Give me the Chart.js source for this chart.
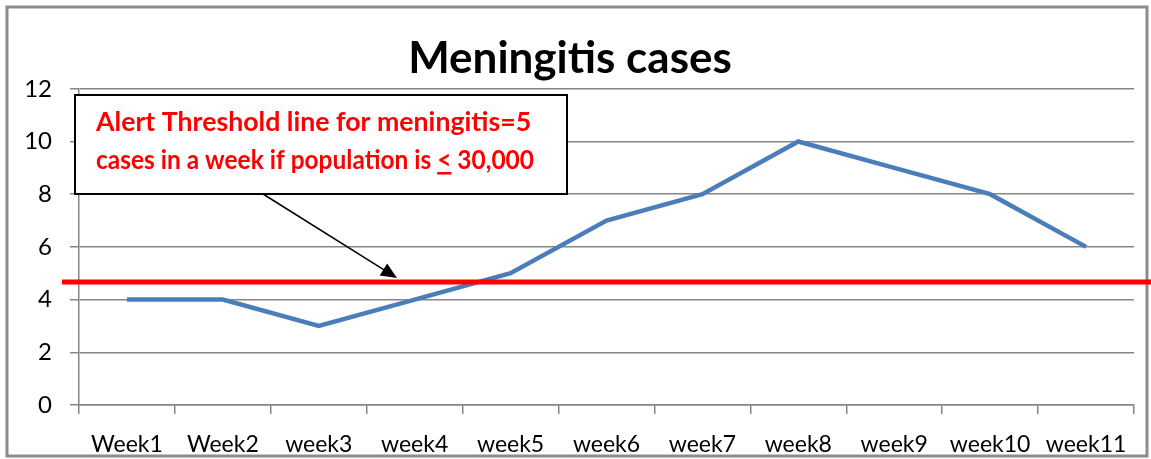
<!DOCTYPE html>
<html>
<head>
<meta charset="utf-8">
<script src="https://cdn.jsdelivr.net/npm/chart.js@4/dist/chart.umd.min.js"></script>
<style>
  html, body { margin: 0; padding: 0; background: #fff; }
  #wrap { width: 1151px; height: 459px; }
</style>
</head>
<body>
<div id="wrap"><canvas id="chart" width="1151" height="459"></canvas></div>
<script>
const weeks = ["Week1", "Week2", "week3", "week4", "week5", "week6", "week7", "week8", "week9", "week10", "week11"];
const cases = [4, 4, 3, 4, 5, 7, 8, 10, 9, 8, 6];
const threshold = 4.67;
const noteLines = ["Alert Threshold line for meningitis=5", "cases in a week if population is ", "<", " 30,000"];

const FONT = "Lato, 'Open Sans', sans-serif";

// frame, threshold line and the note box with arrow
const extras = {
  id: "extras",
  beforeDraw(chart) {
    const c = chart.ctx;
    c.save();
    c.fillStyle = "#fff";
    c.fillRect(0, 0, chart.width, chart.height);
    c.strokeStyle = "#8c8c8c";
    c.lineWidth = 3;
    c.strokeRect(7, 7, 1140, 449);
    c.restore();
  },
  afterDatasetsDraw(chart) {
    const c = chart.ctx;
    const y = chart.scales.y.getPixelForValue(threshold);
    const left = chart.chartArea.left;
    c.save();
    c.strokeStyle = "#ff0000";
    c.lineWidth = 5;
    c.beginPath();
    c.moveTo(left - 17, y);
    c.lineTo(chart.width, y);
    c.stroke();

    // note box
    c.fillStyle = "#fff";
    c.fillRect(75, 95, 492, 99);
    c.strokeStyle = "#000";
    c.lineWidth = 2;
    c.strokeRect(75, 95, 492, 99);

    c.fillStyle = "#ff0000";
    c.font = "bold 26.7px " + FONT;
    c.textBaseline = "alphabetic";
    c.fillText(noteLines[0], 96, 131);

    // second line squeezed to the same width as in the original
    const w1 = c.measureText(noteLines[1]).width;
    const w2 = c.measureText(noteLines[2]).width;
    const w3 = c.measureText(noteLines[3]).width;
    const sx = 438 / (w1 + w2 + w3);
    c.save();
    c.translate(96, 0);
    c.scale(sx, 1);
    c.fillText(noteLines[1], 0, 169);
    c.fillText(noteLines[2], w1, 169);
    c.fillRect(w1, 172, w2, 2.5);
    c.fillText(noteLines[3], w1 + w2, 169);
    c.restore();

    // arrow
    const x0 = 263, y0 = 194, x1 = 397, y1 = y - 4;
    const ang = Math.atan2(y1 - y0, x1 - x0);
    c.strokeStyle = "#000";
    c.lineWidth = 1.5;
    c.beginPath();
    c.moveTo(x0, y0);
    c.lineTo(x1 - 12 * Math.cos(ang), y1 - 12 * Math.sin(ang));
    c.stroke();
    c.fillStyle = "#000";
    c.beginPath();
    c.moveTo(x1, y1);
    c.lineTo(x1 - 16 * Math.cos(ang) + 7 * Math.sin(ang), y1 - 16 * Math.sin(ang) - 7 * Math.cos(ang));
    c.lineTo(x1 - 16 * Math.cos(ang) - 7 * Math.sin(ang), y1 - 16 * Math.sin(ang) + 7 * Math.cos(ang));
    c.closePath();
    c.fill();
    c.restore();
  }
};

new Chart(document.getElementById("chart"), {
  type: "line",
  data: {
    labels: weeks,
    datasets: [{
      data: cases,
      borderColor: "#4a7ebb",
      borderWidth: 4.5,
      pointRadius: 0,
      tension: 0
    }]
  },
  options: {
    responsive: false,
    animation: false,
    layout: { padding: { left: 6, right: 17, top: 6, bottom: 6 } },
    plugins: {
      legend: { display: false },
      tooltip: { enabled: false },
      title: {
        display: true,
        text: "Meningitis cases",
        color: "#000",
        font: { family: FONT, size: 44, weight: "bold" },
        padding: { top: 26, bottom: 4 }
      }
    },
    scales: {
      x: {
        offset: true,
        grid: { offset: true, drawOnChartArea: false, drawTicks: true, tickLength: 9, color: "#868686", lineWidth: 1.5 },
        border: { color: "#868686", width: 1.5 },
        ticks: { color: "#000", font: { family: FONT, size: 23 }, padding: 17, maxRotation: 0, autoSkip: false },
        afterFit: s => { s.height = 48; }
      },
      y: {
        min: 0, max: 12,
        grid: { color: "#868686", lineWidth: 1.5, tickLength: 9 },
        border: { color: "#868686", width: 1.5 },
        ticks: { stepSize: 2, color: "#000", font: { family: FONT, size: 24 }, padding: 18 },
        afterFit: s => { s.width = 73; }
      }
    }
  },
  plugins: [extras]
});
</script>
</body>
</html>
